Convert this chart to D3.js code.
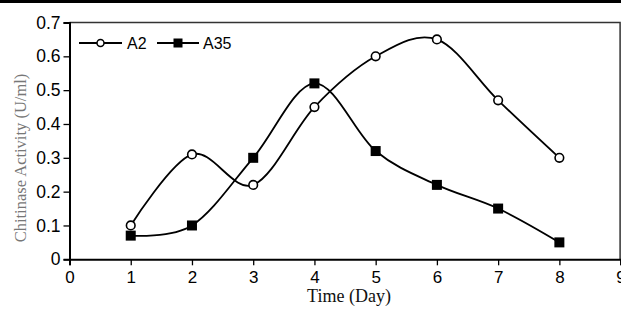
<!DOCTYPE html>
<html>
<head>
<meta charset="utf-8">
<script src="https://cdn.jsdelivr.net/npm/d3@7"></script>
<style>
  body { margin: 0; background: #fff; }
  svg { display: block; }
</style>
</head>
<body>
<svg id="main-chart"></svg>
<script>
// chitinase activity over time
const days = [1, 2, 3, 4, 5, 6, 7, 8];
const a2 = [0.10, 0.31, 0.22, 0.45, 0.60, 0.65, 0.47, 0.30];
const a35 = [0.07, 0.10, 0.30, 0.52, 0.32, 0.22, 0.15, 0.05];
const xTicks = [0, 1, 2, 3, 4, 5, 6, 7, 8, 9];
const yTicks = [0, 0.1, 0.2, 0.3, 0.4, 0.5, 0.6, 0.7];

const width = 621;
const height = 310;
const margin = ({top: 22.5, right: 0.5, bottom: 50.7, left: 69.5});

const svg = d3.select("#main-chart")
  .attr("width", width)
  .attr("height", height);

const x = d3.scaleLinear()
  .domain([0, 9])
  .range([margin.left, 620.6]);
const y = d3.scaleLinear()
  .domain([0, 0.7])
  .range([height - margin.bottom, margin.top]);

// black strip along the top edge
svg.append("rect")
  .attr("x", 0).attr("y", 0)
  .attr("width", width).attr("height", 3)
  .attr("fill", "#000");

// frame top and right
svg.append("path")
  .attr("d", `M${x(0)},${y(0.7)}H${x(9) - 0.5}V${y(0)}`)
  .attr("fill", "none")
  .attr("stroke", "#333")
  .attr("stroke-width", 1.5);

const xAxis = g => g
  .attr("transform", `translate(0,${y(0)})`)
  .call(d3.axisBottom(x).tickValues(xTicks).tickFormat(d3.format("d")).tickSizeOuter(0).tickSize(6).tickPadding(6))
  .call(g => g.select(".domain").attr("stroke-width", 2))
  .call(g => g.selectAll(".tick line").attr("stroke-width", 1.3))
  .call(g => g.selectAll("text")
    .attr("font-family", "Liberation Sans, Arial, sans-serif")
    .attr("font-size", 17)
    .attr("fill", "#000"));

const yAxis = g => g
  .attr("transform", `translate(${x(0)},0)`)
  .call(d3.axisLeft(y).tickValues(yTicks).tickFormat(d => d === 0 ? "0" : d3.format(".1f")(d)).tickSizeOuter(0).tickSize(6).tickPadding(3))
  .call(g => g.select(".domain").attr("stroke-width", 2))
  .call(g => g.selectAll(".tick line").attr("stroke-width", 1.3))
  .call(g => g.selectAll("text")
    .attr("font-family", "Liberation Sans, Arial, sans-serif")
    .attr("font-size", 17.5)
    .attr("fill", "#000"));

svg.append("g").call(xAxis);
svg.append("g").call(yAxis);

// axis titles
svg.append("text")
  .attr("x", 349)
  .attr("y", 302)
  .attr("text-anchor", "middle")
  .attr("font-family", "Liberation Serif, Times New Roman, serif")
  .attr("font-size", 18)
  .attr("fill", "#111")
  .text("Time (Day)");

svg.append("text")
  .attr("transform", "translate(26,158) rotate(-90)")
  .attr("text-anchor", "middle")
  .attr("font-family", "Liberation Serif, Times New Roman, serif")
  .attr("font-size", 16.5)
  .attr("fill", "#777")
  .text("Chitinase Activity (U/ml)");

const line = d3.line()
  .x(d => x(d.day))
  .y(d => y(d.value))
  .curve(d3.curveCardinal.tension(0));

const series = [
  {name: "A2", values: days.map((d, i) => ({day: d, value: a2[i]})), marker: "circle"},
  {name: "A35", values: days.map((d, i) => ({day: d, value: a35[i]})), marker: "square"}
];

series.forEach(s => {
  svg.append("path")
    .datum(s.values)
    .attr("fill", "none")
    .attr("stroke", "#000")
    .attr("stroke-width", 1.8)
    .attr("d", line);
});

function drawMarker(g, type, cx, cy) {
  if (type === "circle") {
    g.append("circle")
      .attr("cx", cx).attr("cy", cy).attr("r", 4.3)
      .attr("fill", "#fff").attr("stroke", "#000").attr("stroke-width", 1.6);
  } else {
    g.append("rect")
      .attr("x", cx - 5).attr("y", cy - 5)
      .attr("width", 10).attr("height", 10)
      .attr("fill", "#000");
  }
}

series.forEach(s => {
  const g = svg.append("g");
  s.values.forEach(d => drawMarker(g, s.marker, x(d.day), y(d.value)));
});

// legend
const legend = svg.append("g");
const legendItems = [
  {name: "A2", marker: "circle", x0: 79, x1: 122, tx: 127},
  {name: "A35", marker: "square", x0: 157, x1: 199, tx: 203}
];
legendItems.forEach(l => {
  legend.append("line")
    .attr("x1", l.x0).attr("x2", l.x1)
    .attr("y1", 43).attr("y2", 43)
    .attr("stroke", "#000").attr("stroke-width", 1.8);
  if (l.marker === "circle") {
    legend.append("circle")
      .attr("cx", (l.x0 + l.x1) / 2).attr("cy", 43).attr("r", 3.5)
      .attr("fill", "#fff").attr("stroke", "#000").attr("stroke-width", 1.5);
  } else {
    legend.append("rect")
      .attr("x", (l.x0 + l.x1) / 2 - 4.5).attr("y", 38.5)
      .attr("width", 9).attr("height", 9)
      .attr("fill", "#000");
  }
  legend.append("text")
    .attr("x", l.tx).attr("y", 49)
    .attr("font-family", "Liberation Sans, Arial, sans-serif")
    .attr("font-size", 16)
    .attr("fill", "#000")
    .text(l.name);
});
</script>
</body>
</html>
